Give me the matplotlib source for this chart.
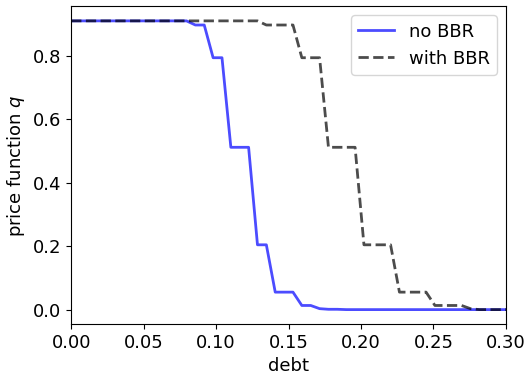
import numpy as np
import matplotlib
matplotlib.use("Agg")
import matplotlib.pyplot as plt

# debt grid (50 points between 0 and 0.3)
debt = np.linspace(0, 0.3, 50)

# price function without buyback rule
q_no_bbr = [0.909] * 14 + [0.896] * 2 + [0.793] * 2 + [0.511] * 3 + [0.204] * 2 \
    + [0.055] * 3 + [0.013] * 2 + [0.003] + [0.001] * 2 + [0.0] * 19

# price function with buyback rule
q_with_bbr = [0.909] * 22 + [0.896] * 4 + [0.793] * 3 + [0.511] * 4 + [0.204] * 4 \
    + [0.055] * 4 + [0.013] * 4 + [0.003] + [0.0] * 4

plt.rcParams["font.size"] = 13

fig = plt.figure(figsize=(5.27, 3.79), dpi=100)
ax = fig.add_axes([0.135, 0.145, 0.825, 0.838])

ax.plot(debt, q_no_bbr, color="blue", alpha=0.7, lw=2, label="no BBR")
ax.plot(debt, q_with_bbr, color="black", alpha=0.7, lw=2, ls="--", label="with BBR")

ax.set_xlim(0, 0.3)
ax.set_xlabel("debt")
ax.set_ylabel("price function $q$")
ax.legend(loc="upper right")

fig.savefig("out.png", dpi=100)
